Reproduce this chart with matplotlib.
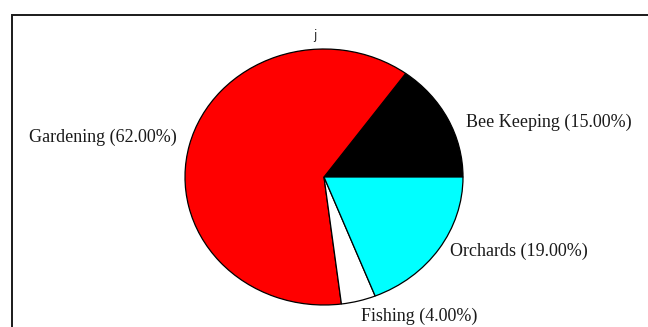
import matplotlib
matplotlib.use("Agg")
import matplotlib.pyplot as plt
from matplotlib.patches import Rectangle

# Hobby shares (percent), drawn counter-clockwise from 3 o'clock
categories = ["Bee Keeping", "Gardening", "Fishing", "Orchards"]
shares = [15.0, 62.0, 4.0, 19.0]
colors = ["#000000", "#ff0000", "#ffffff", "#00ffff"]
title = "j"

W, H = 648, 327
fig = plt.figure(figsize=(W / 100, H / 100), dpi=100)

# Outer frame around the chart area
fig.patches.append(Rectangle((12 / W, -0.05), 1.0, 1 - 15 / H + 0.05,
                             transform=fig.transFigure, fill=False,
                             edgecolor="#1a1a1a", linewidth=1.4))

# Axes sized so the pie is a slightly wide ellipse
cx, cy, rx, ry = 324, 177, 139, 128
ax = fig.add_axes([(cx - rx) / W, (H - cy - ry) / H, 2 * rx / W, 2 * ry / H])

labels = [f"{c} ({s:.2f}%)" for c, s in zip(categories, shares)]
wedges, texts = ax.pie(shares, labels=labels, colors=colors, startangle=0,
                       counterclock=True, labeldistance=1.1,
                       wedgeprops=dict(edgecolor="black", linewidth=0.9),
                       textprops=dict(family="Liberation Serif", fontsize=13,
                                      color="#1a1a1a"))
ax.set_aspect("auto")
ax.set_xlim(-1, 1)
ax.set_ylim(-1, 1)

# Hand-placed label anchors (axes data units)
label_anchor = [(1.022, 0.426), (-1.058, 0.309), (0.266, -1.09), (0.906, -0.582)]
for t, (lx, ly) in zip(texts, label_anchor):
    t.set_position((lx, ly))
    t.set_clip_on(False)

fig.text(315 / W, 1 - 35 / H, title, ha="center", va="center",
         fontsize=8.5, family="DejaVu Sans", color="#222222")

fig.savefig("out.png", dpi=100)
